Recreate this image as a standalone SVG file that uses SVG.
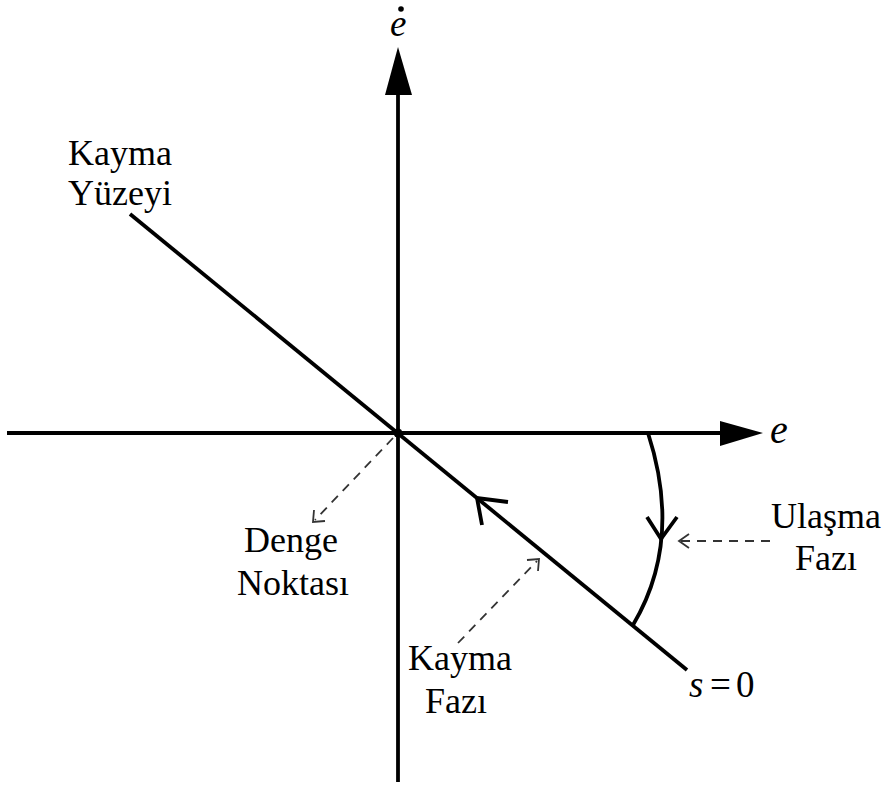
<svg xmlns="http://www.w3.org/2000/svg" width="886" height="787" viewBox="0 0 886 787">
<defs>
<style>
.ax{stroke:#000;stroke-width:3.8;fill:none}
.ln{stroke:#000;stroke-width:3.8;fill:none;stroke-linecap:butt}
.dash{stroke:#333;stroke-width:1.8;fill:none;stroke-dasharray:9,7}
.ah{stroke:#333;stroke-width:1.8;fill:none}
.t{font-family:"Liberation Serif","Times New Roman",serif;font-size:36px;fill:#000}
.it{font-family:"Liberation Serif","Times New Roman",serif;font-style:italic;font-size:40px;fill:#000}
</style>
</defs>
<rect width="886" height="787" fill="#fff"/>
<g id="axes">
<line class="ax" x1="398" y1="782" x2="398" y2="90"/>
<polygon points="398,47 385,95 412,95" fill="#000"/>
<line class="ax" x1="7" y1="433" x2="725" y2="433"/>
<polygon points="763,433 720,421 720,446" fill="#000"/>
<text class="it" x="390" y="36" style="font-size:37px">e</text>
<circle cx="401" cy="9" r="2.8" fill="#000"/>
<text class="it" x="770" y="443">e</text>
</g>
<g id="sliding-surface">
<line class="ln" x1="130" y1="214" x2="687" y2="670"/>
<circle cx="398" cy="433" r="4.5" fill="#000"/>
<polyline class="ln" points="508,502 477,498 482,525"/>
<text class="t" x="120" y="165" text-anchor="middle">Kayma</text>
<text class="t" x="120" y="205" text-anchor="middle">Yüzeyi</text>
<text class="it" x="689" y="697" style="font-size:37px">s</text>
<text class="t" x="710" y="697" style="font-size:37px">=</text>
<text class="t" x="736" y="697" style="font-size:37px">0</text>
</g>
<g id="reaching-phase">
<path class="ln" d="M648,433 Q683,541 633,625"/>
<polyline class="ln" points="647,517 661,539 677,517"/>
</g>
<g id="connectors">
<line class="dash" x1="770" y1="541" x2="680" y2="541"/>
<polyline class="ah" points="689,534 679,541 689,548"/>
<line class="dash" x1="393" y1="438" x2="315" y2="520"/>
<polyline class="ah" points="314,510 313,522 325,521"/>
<line class="dash" x1="458" y1="643" x2="537" y2="561"/>
<polyline class="ah" points="527,560 539,559 538,571"/>
</g>
<g id="denge">
<text class="t" x="291" y="552" text-anchor="middle">Denge</text>
<text class="t" x="293" y="595" text-anchor="middle">Noktası</text>
</g>
<g id="kayma-fazi">
<text class="t" x="460" y="670" text-anchor="middle">Kayma</text>
<text class="t" x="456" y="713" text-anchor="middle">Fazı</text>
</g>
<g id="ulasma-fazi">
<text class="t" x="826" y="528" text-anchor="middle">Ulaşma</text>
<text class="t" x="826" y="570" text-anchor="middle">Fazı</text>
</g>
</svg>
